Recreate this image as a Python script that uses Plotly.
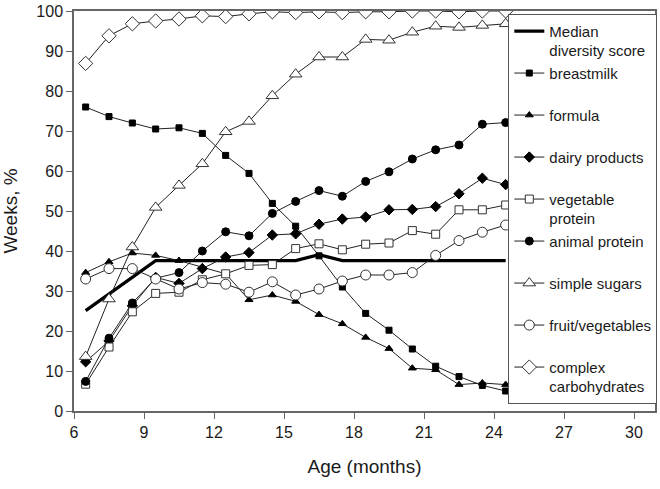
import plotly.graph_objects as go

age = [6.5, 7.5, 8.5, 9.5, 10.5, 11.5, 12.5, 13.5, 14.5, 15.5,
       16.5, 17.5, 18.5, 19.5, 20.5, 21.5, 22.5, 23.5, 24.5]

median_score = [25.1, 29.2, 33.4, 37.6, 37.6, 37.6, 37.6, 37.6, 37.6, 37.6,
                39.1, 37.6, 37.6, 37.6, 37.6, 37.6, 37.6, 37.6, 37.6]
breastmilk = [76.0, 73.6, 72.0, 70.5, 70.8, 69.4, 63.9, 59.4, 51.9, 46.2,
              38.8, 31.0, 24.4, 20.2, 15.5, 11.2, 8.6, 6.4, 5.0]
formula = [34.6, 37.3, 39.5, 38.9, 37.6, 36.0, 34.3, 27.8, 29.0, 27.4,
           24.1, 21.8, 18.4, 15.6, 10.7, 10.3, 6.6, 7.0, 6.6]
dairy = [12.3, 17.5, 26.3, 33.4, 31.9, 35.6, 38.5, 39.6, 44.0, 44.3,
         46.7, 48.0, 48.5, 50.3, 50.4, 51.1, 54.3, 58.2, 56.6]
veg_protein = [6.7, 16.0, 24.8, 29.4, 29.7, 32.8, 34.3, 36.4, 36.6, 40.6,
               41.8, 40.3, 41.7, 42.0, 45.1, 44.2, 50.3, 50.3, 51.5]
animal_protein = [7.4, 18.2, 27.0, 33.2, 34.6, 40.0, 44.8, 43.8, 49.4, 52.4,
                  55.1, 53.7, 57.4, 59.8, 63.0, 65.3, 66.5, 71.7, 72.1]
simple_sugars = [13.6, 28.0, 41.0, 50.9, 56.4, 61.8, 69.8, 72.4, 78.8, 84.2,
                 88.5, 88.5, 92.9, 92.7, 94.7, 96.2, 95.9, 96.4, 96.8]
fruit_veg = [33.0, 35.6, 35.6, 33.0, 30.5, 32.1, 31.7, 29.7, 32.3, 29.0,
             30.5, 32.5, 34.0, 34.0, 34.6, 38.9, 42.6, 44.7, 46.5]
complex_carbs = [86.9, 93.8, 96.8, 97.5, 98.0, 98.8, 98.6, 99.3, 99.8, 99.6,
                 99.8, 99.6, 99.8, 99.8, 100.0, 100.0, 99.8, 100.0, 100.0]

x_ticks = [6, 9, 12, 15, 18, 21, 24, 27, 30]
y_ticks = [0, 10, 20, 30, 40, 50, 60, 70, 80, 90, 100]

FONT = "Liberation Sans, Arial, sans-serif"
INK = "#1a1a1a"
OPEN_EDGE = "#333333"

fig = go.Figure()

fig.add_trace(go.Scatter(
    x=age, y=median_score, mode="lines", name="Median<br>diversity score",
    line=dict(color="black", width=3.2), legendgroup="a"))

series = [
    ("breastmilk<br> ", breastmilk, "square", 6, "black", "black", "b"),
    ("formula<br> ", formula, "triangle-up", 7, "black", "black", "c"),
    ("dairy products<br> ", dairy, "diamond", 8, "black", "black", "d"),
    ("vegetable<br>protein", veg_protein, "square", 8, "white", OPEN_EDGE, "e"),
    ("animal protein<br> ", animal_protein, "circle", 8, "black", "black", "f"),
    ("simple sugars<br> ", simple_sugars, "triangle-up", 11, "white", OPEN_EDGE, "g"),
    ("fruit/vegetables<br> ", fruit_veg, "circle", 10, "white", OPEN_EDGE, "h"),
    ("complex<br>carbohydrates", complex_carbs, "diamond", 11, "white", OPEN_EDGE, "i"),
]

for name, vals, sym, size, fill, edge, grp in series:
    fig.add_trace(go.Scatter(
        x=age, y=vals, mode="lines+markers", name=name, legendgroup=grp,
        line=dict(color="#222222", width=1),
        marker=dict(symbol=sym, size=size, color=fill,
                    line=dict(color=edge, width=1))))

fig.update_layout(
    width=660, height=489,
    margin=dict(l=71, r=3, t=6, b=78),
    paper_bgcolor="white", plot_bgcolor="white",
    font=dict(family=FONT, color=INK, size=16),
    showlegend=True,
    legend=dict(
        x=0.7475, y=0.993, xanchor="left", yanchor="top",
        bgcolor="white", bordercolor="#555555", borderwidth=1,
        font=dict(family=FONT, size=15, color=INK),
        valign="top", tracegroupgap=0, itemwidth=30,
    ),
    xaxis=dict(
        range=[6, 30.9], tickmode="array", tickvals=x_ticks,
        ticks="outside", ticklen=6, tickcolor="#666666",
        showline=True, linecolor="#666666", linewidth=1.5, mirror=True,
        showgrid=False, zeroline=False, ticklabeloverflow="allow",
        tickfont=dict(size=16, family=FONT, color=INK),
        title=dict(text="Age (months)", font=dict(size=19, family=FONT, color=INK), standoff=20),
    ),
    yaxis=dict(
        range=[0, 100], tickmode="array", tickvals=y_ticks,
        ticks="outside", ticklen=6, tickcolor="#666666",
        showline=True, linecolor="#666666", linewidth=1.5, mirror=True,
        showgrid=False, zeroline=False, ticklabeloverflow="allow",
        tickfont=dict(size=16, family=FONT, color=INK),
        title=dict(text="Weeks, %", font=dict(size=19, family=FONT, color=INK), standoff=20),
    ),
)

fig.write_html("out.html", config={"displayModeBar": False},
               post_script="document.body.style.margin='0';")
